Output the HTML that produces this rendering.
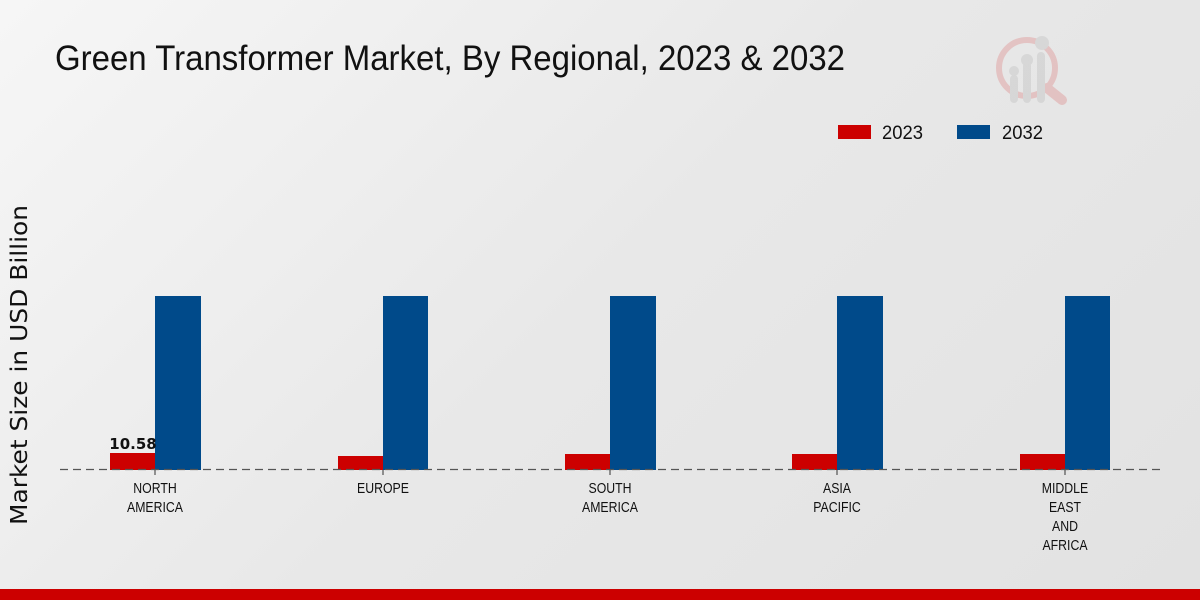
<!DOCTYPE html>
<html><head><style>
html,body{margin:0;padding:0;}
body{width:1200px;height:600px;overflow:hidden;background:linear-gradient(135deg,#f6f6f6 0%,#e8e8e8 50%,#e2e2e2 100%);font-family:"Liberation Sans","DejaVu Sans",sans-serif;position:relative;}
</style></head><body>
<svg width="1200" height="600" style="position:absolute;left:0;top:0" font-family="'Liberation Sans Narrow','Liberation Sans',sans-serif">
<text x="55" y="70" font-size="35" fill="#111" textLength="790" lengthAdjust="spacingAndGlyphs">Green Transformer Market, By Regional, 2023 &amp; 2032</text>
<g opacity="0.5">
<circle cx="1027" cy="68" r="28" fill="none" stroke="#e0a0a0" stroke-width="6"/>
<line x1="1047" y1="88" x2="1062" y2="100" stroke="#e0a0a0" stroke-width="10" stroke-linecap="round"/>
<rect x="1010" y="75" width="8" height="28" rx="4" fill="#c8c8c8"/>
<rect x="1023" y="62" width="8" height="41" rx="4" fill="#c8c8c8"/>
<rect x="1037" y="52" width="8" height="51" rx="4" fill="#c8c8c8"/>
<circle cx="1014" cy="71" r="5" fill="#c8c8c8"/><circle cx="1027" cy="60" r="6" fill="#c8c8c8"/><circle cx="1042" cy="43" r="7" fill="#c8c8c8"/>
</g>
<rect x="838" y="125" width="33" height="14" fill="#cc0000"/>
<text x="882" y="139" font-size="19" fill="#111" textLength="41" lengthAdjust="spacingAndGlyphs">2023</text>
<rect x="957" y="125" width="33" height="14" fill="#004a8a"/>
<text x="1002" y="139" font-size="19" fill="#111" textLength="41" lengthAdjust="spacingAndGlyphs">2032</text>
<text transform="translate(27,365) rotate(-90)" font-size="23" fill="#111" text-anchor="middle" font-family="'DejaVu Sans',sans-serif" textLength="320" lengthAdjust="spacingAndGlyphs">Market Size in USD Billion</text>
<g fill="#cc0000">
<rect x="110" y="453" width="45" height="17"/>
<rect x="338" y="456" width="45" height="14"/>
<rect x="565" y="454" width="45" height="16"/>
<rect x="792" y="454" width="45" height="16"/>
<rect x="1020" y="454" width="45" height="16"/>
</g>
<g fill="#004a8a">
<rect x="155" y="296" width="46" height="174"/>
<rect x="383" y="296" width="45" height="174"/>
<rect x="610" y="296" width="46" height="174"/>
<rect x="837" y="296" width="46" height="174"/>
<rect x="1065" y="296" width="45" height="174"/>
</g>
<line x1="60" y1="469.5" x2="1160" y2="469.5" stroke="#555" stroke-width="1.3" stroke-dasharray="8,5"/>
<g stroke="#333"><line x1="155" y1="470" x2="155" y2="475"/><line x1="383" y1="470" x2="383" y2="475"/><line x1="610" y1="470" x2="610" y2="475"/><line x1="837" y1="470" x2="837" y2="475"/><line x1="1065" y1="470" x2="1065" y2="475"/></g>
<text x="133" y="449" font-size="15" font-weight="bold" fill="#111" text-anchor="middle" font-family="'DejaVu Sans',sans-serif">10.58</text>
<g font-size="15" fill="#111" text-anchor="middle">
<g transform="translate(155,0) scale(0.82,1)"><text x="0" y="493">NORTH</text><text x="0" y="512">AMERICA</text></g>
<g transform="translate(383,0) scale(0.82,1)"><text x="0" y="493">EUROPE</text></g>
<g transform="translate(610,0) scale(0.82,1)"><text x="0" y="493">SOUTH</text><text x="0" y="512">AMERICA</text></g>
<g transform="translate(837,0) scale(0.82,1)"><text x="0" y="493">ASIA</text><text x="0" y="512">PACIFIC</text></g>
<g transform="translate(1065,0) scale(0.82,1)"><text x="0" y="493">MIDDLE</text><text x="0" y="512">EAST</text><text x="0" y="531">AND</text><text x="0" y="550">AFRICA</text></g>
</g>
<rect x="0" y="589" width="1200" height="11" fill="#cc0000"/>
</svg>
</body></html>
